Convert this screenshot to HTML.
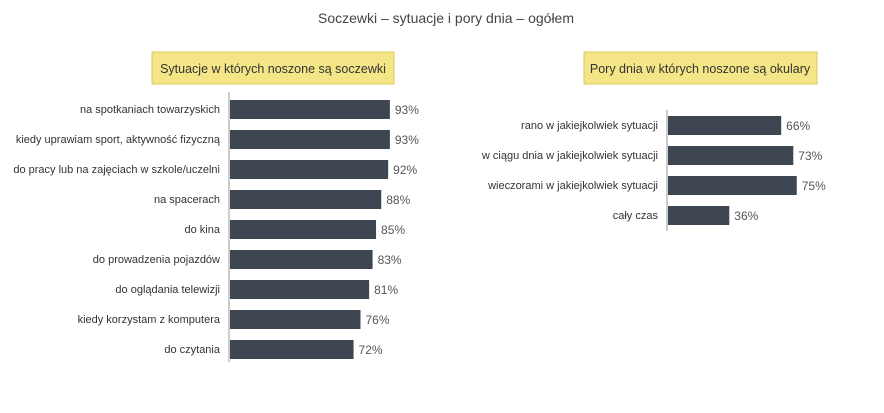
<!DOCTYPE html>
<html><head><meta charset="utf-8"><style>
body{margin:0;background:#fff;width:884px;height:408px;overflow:hidden;font-family:"Liberation Sans",sans-serif}
</style></head><body>
<svg width="884" height="408" style="font-family:'Liberation Sans',sans-serif">
<text x="446" y="23" text-anchor="middle" font-size="14" fill="#444">Soczewki – sytuacje i pory dnia – ogółem</text>
<rect x="152" y="52" width="242" height="32" fill="#f4e687" stroke="#d9c95a"/>
<text x="273" y="73" text-anchor="middle" font-size="12.5" fill="#333">Sytuacje w których noszone są soczewki</text>
<rect x="584" y="52" width="233" height="32" fill="#f4e687" stroke="#d9c95a"/>
<text x="700" y="73" text-anchor="middle" font-size="12.5" fill="#333">Pory dnia w których noszone są okulary</text>
<g id="left"></g><g id="right"></g>
</svg>
<script>
const leftCats=["na spotkaniach towarzyskich","kiedy uprawiam sport, aktywność fizyczną","do pracy lub na zajęciach w szkole/uczelni","na spacerach","do kina","do prowadzenia pojazdów","do oglądania telewizji","kiedy korzystam z komputera","do czytania"];
const leftVals=[93,93,92,88,85,83,81,76,72];
const rightCats=["rano w jakiejkolwiek sytuacji","w ciągu dnia w jakiejkolwiek sytuacji","wieczorami w jakiejkolwiek sytuacji","cały czas"];
const rightVals=[66,73,75,36];
const NS="http://www.w3.org/2000/svg";
function draw(g,cats,vals,x0,top,axTop,axBot,prefix){
  const sx=v=>x0+v*1.73;
  const y=i=>top+i*30;
  const ax=document.createElementNS(NS,"line");
  
  
  ax.setAttribute("x1",x0);ax.setAttribute("x2",x0);ax.setAttribute("y1",axTop);ax.setAttribute("y2",axBot);
  ax.setAttribute("stroke","#999");g.appendChild(ax);
  cats.forEach((c,i)=>{
    const r=document.createElementNS(NS,"rect");
    
    
    r.setAttribute("x",x0+1);r.setAttribute("y",y(i));r.setAttribute("width",sx(vals[i])-x0-1);r.setAttribute("height",19);
    r.setAttribute("fill","#3e4652");g.appendChild(r);
    const t=document.createElementNS(NS,"text");
    
    
    t.setAttribute("x",x0-9);t.setAttribute("y",y(i)+13);t.setAttribute("text-anchor","end");
    t.setAttribute("font-size","11");t.setAttribute("fill","#333");t.textContent=c;g.appendChild(t);
    const v=document.createElementNS(NS,"text");
    
    
    v.setAttribute("x",sx(vals[i])+5);v.setAttribute("y",y(i)+14);
    v.setAttribute("font-size","12");v.setAttribute("fill","#555");v.textContent=vals[i]+"%";g.appendChild(v);
  });
}
draw(document.getElementById("left"),leftCats,leftVals,229,100,92,362,"left");
draw(document.getElementById("right"),rightCats,rightVals,667,116,110,231,"right");
</script>
</body></html>
